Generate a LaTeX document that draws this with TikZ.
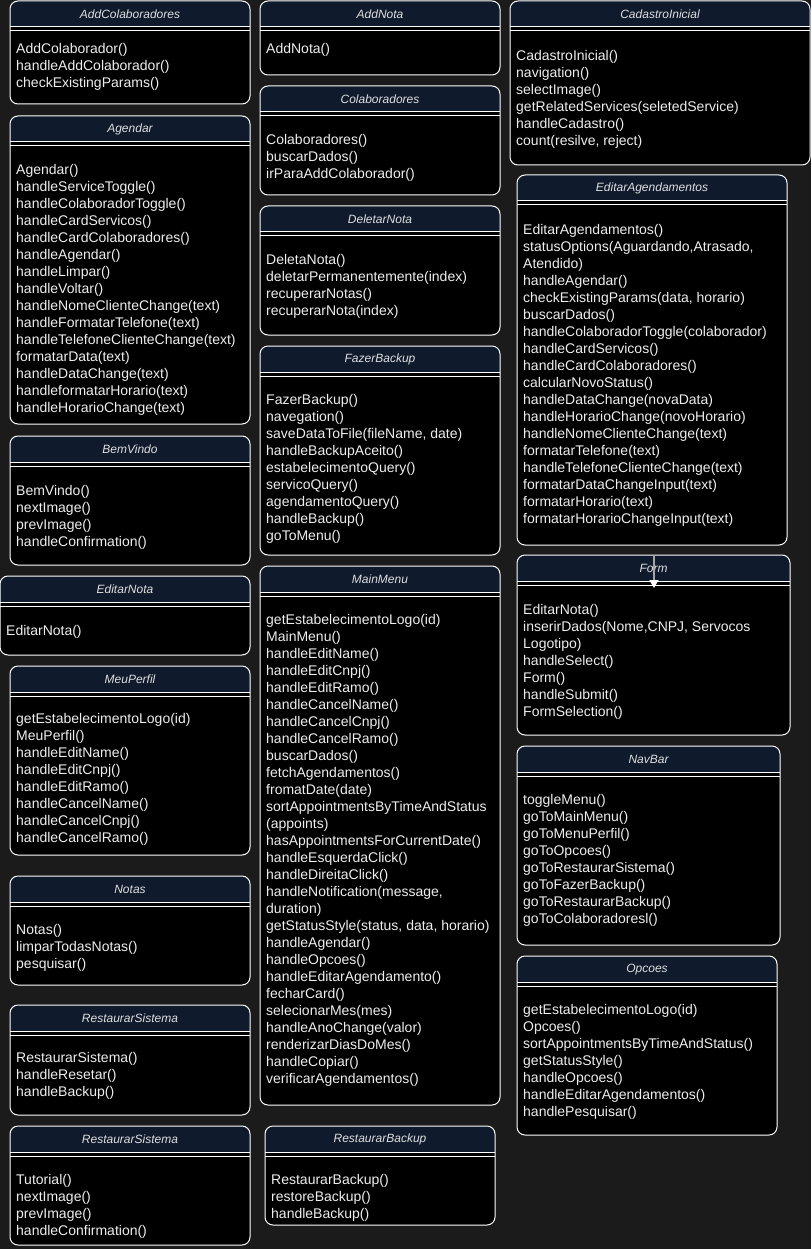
\documentclass[tikz,border=0pt]{standalone}
\usepackage{fontspec}
\setmainfont{Liberation Sans}
\usetikzlibrary{arrows.meta}
\definecolor{bgc}{RGB}{27,27,27}
\definecolor{headc}{RGB}{15,27,45}
\definecolor{titlec}{RGB}{222,222,222}
\definecolor{textc}{RGB}{238,238,238}
\definecolor{arrowc}{RGB}{165,165,165}
\tikzset{
  frame/.style={draw=white, line width=1pt, rounded corners=8pt, inner sep=0pt, outer sep=0pt},
  sepline/.style={draw=white, line width=1pt},
  titletext/.style={inner sep=0pt, text=titlec, font=\fontsize{12}{14}\selectfont\itshape},
  bodytext/.style={inner sep=0pt, anchor=north west, align=left, text=textc, font=\fontsize{14}{17}\selectfont},
  connector/.style={draw=arrowc, line width=1.5pt, -{Triangle[width=9pt,length=8pt,fill=white,color=white]}}
}
\newcommand\umlbox[8]{%
  \begin{scope}
    \clip[rounded corners=8pt] (#2,#3) rectangle (#4,#5);
    \fill[black] (#2,#3) rectangle (#4,#5);
    \fill[headc] (#2,#3) rectangle (#4,#3+26);
  \end{scope}
  \draw[sepline] (#2,#3+26) -- (#4,#3+26);
  \draw[sepline] (#2,#3+30) -- (#4,#3+30);
  \node[frame, minimum width={(#4-#2)*1pt}, minimum height={(#5-#3)*1pt}] (#1) at ({(#2+#4)/2},{(#3+#5)/2}) {};
  \node[titletext] (#1-title) at ({(#2+#4)/2},#3+13.5) {#6};
  \node[bodytext] (#1-body) at (#2+6,#3+#7+1) {\strut#8};
}
\begin{document}
\begin{tikzpicture}[x=1pt,y=-1pt]
\fill[bgc] (0,0) rectangle (811,1249);
\useasboundingbox (0,0) rectangle (811,1249);

% column 1
\umlbox{addcolab}{10}{1}{250}{104}{AddColaboradores}{39.6}{AddColaborador()\\handleAddColaborador()\\checkExistingParams()}
\umlbox{agendar}{10}{116}{250}{424}{Agendar}{45.6}{Agendar()\\handleServiceToggle()\\handleColaboradorToggle()\\handleCardServicos()\\handleCardColaboradores()\\handleAgendar()\\handleLimpar()\\handleVoltar()\\handleNomeClienteChange(text)\\handleFormatarTelefone(text)\\handleTelefoneClienteChange(text)\\formatarData(text)\\handleDataChange(text)\\handleformatarHorario(text)\\handleHorarioChange(text)}
\umlbox{bemvindo}{10}{436}{250}{565}{BemVindo}{46.6}{BemVindo()\\nextImage()\\prevImage()\\handleConfirmation()}
\umlbox{editarnota}{0}{576}{250}{655}{EditarNota}{46.6}{EditarNota()}
\umlbox{meuperfil}{10}{666}{250}{855}{MeuPerfil}{44.6}{getEstabelecimentoLogo(id)\\MeuPerfil()\\handleEditName()\\handleEditCnpj()\\handleEditRamo()\\handleCancelName()\\handleCancelCnpj()\\handleCancelRamo()}
\umlbox{notas}{10}{876}{250}{985}{Notas}{45.6}{Notas()\\limparTodasNotas()\\pesquisar()}
\umlbox{restsist}{10}{1005}{250}{1115}{RestaurarSistema}{44.6}{RestaurarSistema()\\handleResetar()\\handleBackup()}
\umlbox{tutorial}{10}{1126}{250}{1245}{RestaurarSistema}{45.6}{Tutorial()\\nextImage()\\prevImage()\\handleConfirmation()}

% column 2
\umlbox{addnota}{260}{1}{500}{75}{AddNota}{39.6}{AddNota()}
\umlbox{colaboradores}{260}{86}{500}{195}{Colaboradores}{45.6}{Colaboradores()\\buscarDados()\\irParaAddColaborador()}
\umlbox{deletarnota}{260}{206}{500}{335}{DeletarNota}{45.6}{DeletaNota()\\deletarPermanentemente(index)\\recuperarNotas()\\recuperarNota(index)}
\umlbox{fazerbackup}{260}{346}{500}{555}{FazerBackup}{45.6}{FazerBackup()\\navegation()\\saveDataToFile(fileName, date)\\handleBackupAceito()\\estabelecimentoQuery()\\servicoQuery()\\agendamentoQuery()\\handleBackup()\\goToMenu()}
\umlbox{mainmenu}{260}{566}{500}{1105}{MainMenu}{45.6}{getEstabelecimentoLogo(id)\\MainMenu()\\handleEditName()\\handleEditCnpj()\\handleEditRamo()\\handleCancelName()\\handleCancelCnpj()\\handleCancelRamo()\\buscarDados()\\fetchAgendamentos()\\fromatDate(date)\\sortAppointmentsByTimeAndStatus\\(appoints)\\hasAppointmentsForCurrentDate()\\handleEsquerdaClick()\\handleDireitaClick()\\handleNotification(message,\\duration)\\getStatusStyle(status, data, horario)\\handleAgendar()\\handleOpcoes()\\handleEditarAgendamento()\\fecharCard()\\selecionarMes(mes)\\handleAnoChange(valor)\\renderizarDiasDoMes()\\handleCopiar()\\verificarAgendamentos()}
\umlbox{restbackup}{265}{1126}{495}{1225}{RestaurarBackup}{45.6}{RestaurarBackup()\\restoreBackup()\\handleBackup()}

% column 3
\umlbox{cadastro}{510}{1}{810}{165}{CadastroInicial}{46.6}{CadastroInicial()\\navigation()\\selectImage()\\getRelatedServices(seletedService)\\handleCadastro()\\count(resilve, reject)}
\umlbox{editarag}{517}{175}{787}{545}{EditarAgendamentos}{46.6}{EditarAgendamentos()\\statusOptions(Aguardando,Atrasado,\\Atendido)\\handleAgendar()\\checkExistingParams(data, horario)\\buscarDados()\\handleColaboradorToggle(colaborador)\\handleCardServicos()\\handleCardColaboradores()\\calcularNovoStatus()\\handleDataChange(novaData)\\handleHorarioChange(novoHorario)\\handleNomeClienteChange(text)\\formatarTelefone(text)\\handleTelefoneClienteChange(text)\\formatarDataChangeInput(text)\\formatarHorario(text)\\formatarHorarioChangeInput(text)}
\umlbox{form}{517}{555}{790}{735}{Form}{46.6}{EditarNota()\\inserirDados(Nome,CNPJ, Servocos\\Logotipo)\\handleSelect()\\Form()\\handleSubmit()\\FormSelection()}
\umlbox{navbar}{517}{746}{780}{945}{NavBar}{45.6}{toggleMenu()\\goToMainMenu()\\goToMenuPerfil()\\goToOpcoes()\\goToRestaurarSistema()\\goToFazerBackup()\\goToRestaurarBackup()\\goToColaboradoresl()}
\umlbox{opcoes}{517}{956}{777}{1135}{Opcoes}{45.6}{getEstabelecimentoLogo(id)\\Opcoes()\\sortAppointmentsByTimeAndStatus()\\getStatusStyle()\\handleOpcoes()\\handleEditarAgendamentos()\\handlePesquisar()}

% connector inside Form
\coordinate (formarrowstart) at (654,555);
\coordinate (formarrowend) at (654,588);
\draw[connector] (formarrowstart) -- (formarrowend);
\end{tikzpicture}
\end{document}
